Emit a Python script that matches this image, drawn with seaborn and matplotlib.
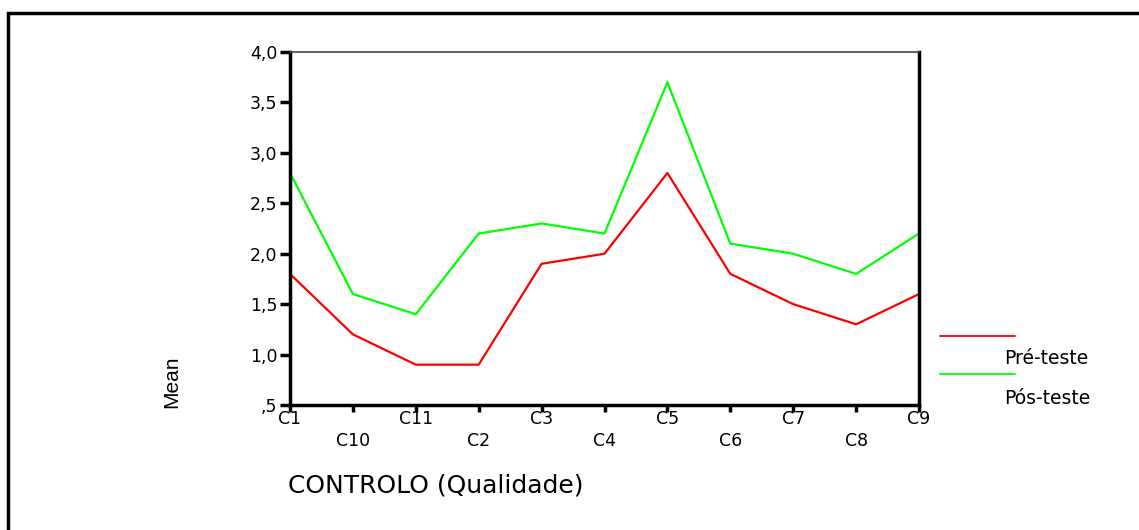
import pandas as pd
import matplotlib
matplotlib.use("Agg")
import matplotlib.pyplot as plt
from matplotlib.lines import Line2D
from matplotlib.patches import Rectangle
import seaborn as sns

# Data
categories = ["C1", "C10", "C11", "C2", "C3", "C4", "C5", "C6", "C7", "C8", "C9"]
pre_teste = [1.8, 1.2, 0.9, 0.9, 1.9, 2.0, 2.8, 1.8, 1.5, 1.3, 1.6]
pos_teste = [2.8, 1.6, 1.4, 2.2, 2.3, 2.2, 3.7, 2.1, 2.0, 1.8, 2.2]
y_ticks = [0.5, 1.0, 1.5, 2.0, 2.5, 3.0, 3.5, 4.0]
y_labels = [",5", "1,0", "1,5", "2,0", "2,5", "3,0", "3,5", "4,0"]
series_names = ["Pré-teste", "Pós-teste"]
colors = ["#ff0000", "#00ff00"]

df = pd.DataFrame({
    "pos": list(range(len(categories))) * 2,
    "Mean": pre_teste + pos_teste,
    "serie": [series_names[0]] * len(categories) + [series_names[1]] * len(categories),
})

sns.set_style("white")
plt.rcParams["font.family"] = ["DejaVu Sans"]
plt.rcParams["text.color"] = "black"
plt.rcParams["ytick.color"] = "black"
plt.rcParams["xtick.color"] = "black"

fig = plt.figure(figsize=(11.39, 5.30), dpi=100)
ax = fig.add_axes([290 / 1139, 1 - 405 / 530, 629 / 1139, 353 / 530])

sns.lineplot(data=df, x="pos", y="Mean", hue="serie", palette=colors,
             linewidth=1.6, legend=False, sort=False, ax=ax)

ax.set_xlim(0, len(categories) - 1)
ax.set_ylim(0.5, 4.0)
ax.set_yticks(y_ticks)
ax.set_yticklabels(y_labels, fontsize=12.5)
ax.set_xticks(range(len(categories)))
ax.set_xticklabels([])
ax.set_xlabel("")
ax.set_ylabel("")
ax.tick_params(axis="y", direction="out", length=7, width=2.5, color="black",
               left=True, pad=2)
ax.tick_params(axis="x", direction="out", length=5, width=2.5, color="black",
               bottom=True)

for side in ["left", "bottom", "right"]:
    ax.spines[side].set_linewidth(2.5)
    ax.spines[side].set_color("black")
ax.spines["top"].set_linewidth(1.2)
ax.spines["top"].set_color("#444444")

# alternating category labels in two rows
for i, lab in enumerate(categories):
    yoff = -0.04 if i % 2 == 0 else -0.103
    ax.text(i, yoff, lab, transform=ax.get_xaxis_transform(), ha="center", va="center",
            fontsize=12.5)

fig.text(288 / 1139, 1 - 486 / 530, "CONTROLO (Qualidade)", ha="left", va="center",
         fontsize=18)
fig.text(172 / 1139, 1 - 382 / 530, "Mean", rotation=90, ha="center", va="center",
         fontsize=15, family="Liberation Sans", fontstretch="condensed")

# legend as drawn in the original
leg_rows = [(336, 358), (374, 398)]
for name, col, (ly, ty) in zip(series_names, colors, leg_rows):
    fig.add_artist(Line2D([940 / 1139, 1015 / 1139], [1 - ly / 530, 1 - ly / 530],
                          color=col, linewidth=1.3, transform=fig.transFigure))
    fig.text(1004 / 1139, 1 - ty / 530, name, ha="left", va="center", fontsize=13.5)

# outer frame
fig.add_artist(Rectangle((8 / 1139, -0.05), 1.1, 1 - 13 / 530 + 0.05, fill=False,
                         edgecolor="black", linewidth=2.5, transform=fig.transFigure))

fig.savefig("out.png", dpi=100)
